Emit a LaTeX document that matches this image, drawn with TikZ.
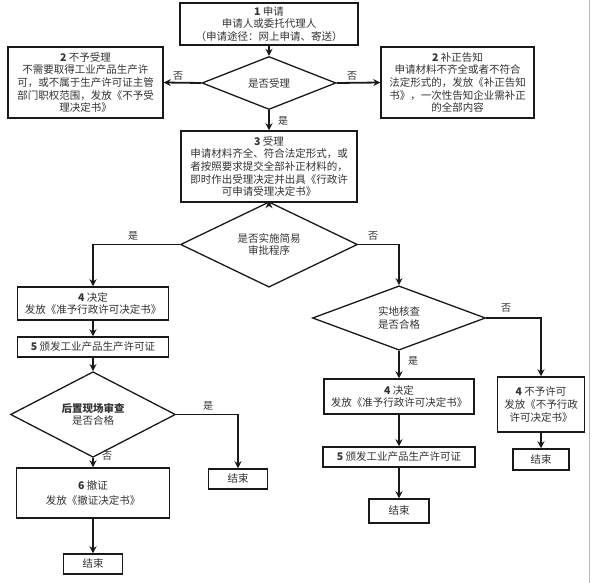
\documentclass[tikz,border=0pt]{standalone}
\usepackage{fontspec}
\setmainfont{Noto Sans CJK SC}
\usetikzlibrary{shapes.geometric,arrows.meta}
\begin{document}
\begin{tikzpicture}[x=1pt,y=-1pt,
  every node/.style={font=\fontsize{10.5}{12.6}\selectfont, text=black!80},
  box/.style n args={2}{draw=black!90, line width=1.5pt, align=center, inner sep=0pt, minimum width=#1, minimum height=#2},
  dia/.style n args={2}{diamond, draw=black!90, line width=1.3pt, align=center, inner sep=0pt, minimum width=#1, minimum height=#2},
  arr/.style={draw=black!90, line width=1.8pt, -{Stealth[length=7pt,width=7pt]}},
  lab/.style={font=\fontsize{10}{12}\selectfont}]
\fill[white] (0,0) rectangle (592,583);
\useasboundingbox (0,0) rectangle (592,583);
\draw[gray!55, line width=1pt] (589.5,0) -- (589.5,583);

% nodes
\node[box={178pt}{42pt}] (b1) at (269,24) {\textbf{1} 申请\\申请人或委托代理人\\（申请途径：网上申请、寄送）};
\node[dia={134pt}{53pt}] (d1) at (269,83) {是否受理};
\node[box={155pt}{71pt}] (b2L) at (85.5,82.5) {\textbf{2} 不予受理\\不需要取得工业产品生产许\\可，或不属于生产许可证主管\\部门职权范围，发放《不予受\\理决定书》};
\node[box={153pt}{71pt}] (b2R) at (457.5,82.5) {\textbf{2} 补正告知\\申请材料不齐全或者不符合\\法定形式的，发放《补正告知\\书》，一次性告知企业需补正\\的全部内容};
\node[box={176pt}{71pt}] (b3) at (269,166.5) {\textbf{3} 受理\\申请材料齐全、符合法定形式，或\\者按照要求提交全部补正材料的，\\即时作出受理决定并出具《行政许\\可申请受理决定书》};
\node[dia={177pt}{59pt}] (d2) at (269,244.5) {是否实施简易\\审批程序};
\node[box={151pt}{33pt}] (b4L) at (93,303.5) {\textbf{4} 决定\\发放《准予行政许可决定书》};
\node[box={151pt}{20pt}] (b5L) at (93,347) {\textbf{5} 颁发工业产品生产许可证};
\node[dia={165pt}{61pt}] (d3) at (93,414.5) {\textbf{后置现场审查}\\是否合格};
\node[box={59pt}{20pt}] (e1) at (238,479) {结束};
\node[box={153pt}{50pt}] (b6) at (93,493) {\textbf{6} 撤证\\[2pt]发放《撤证决定书》};
\node[box={59pt}{20pt}] (e2) at (93,564) {结束};
\node[dia={173pt}{60pt}] (d4) at (399,318) {实地核查\\是否合格};
\node[box={150pt}{35pt}] (b4R) at (399,396.5) {\textbf{4} 决定\\发放《准予行政许可决定书》};
\node[box={152pt}{20pt}] (b5R) at (399,457) {\textbf{5} 颁发工业产品生产许可证};
\node[box={60pt}{24pt}] (e3) at (399,511) {结束};
\node[box={87pt}{55pt}] (b4N) at (541,404.5) {\textbf{4} 不予许可\\发放《不予行政\\许可决定书》};
\node[box={56pt}{21pt}] (e4) at (541,459.5) {结束};

% connectors
\draw[arr] (b1) -- (d1);
\draw[arr] (d1.west) -- (b2L.east);
\draw[arr] (d1.east) -- (b2R.west);
\draw[arr] (d1.south) -- (b3.north);
\draw[arr] (b3) -- (d2);
\draw[arr] (d2.west) -| (b4L.north);
\draw[arr] (d2.east) -| (d4.north);
\draw[arr] (b4L) -- (b5L);
\draw[arr] (b5L) -- (d3.north);
\draw[arr] (d3.east) -| (e1.north);
\draw[arr] (d3.south) -- (b6.north);
\draw[arr] (b6) -- (e2);
\draw[arr] (d4.south) -- (b4R.north);
\draw[arr] (d4.east) -| (b4N.north);
\draw[arr] (b4R) -- (b5R);
\draw[arr] (b5R) -- (e3);
\draw[arr] (b4N) -- (e4);

% labels
\node[lab] (l1) at (178,76) {否};
\node[lab] (l2) at (352,76) {否};
\node[lab] (l3) at (283,121) {是};
\node[lab] (l4) at (133,236) {是};
\node[lab] (l5) at (373,236) {否};
\node[lab] (l6) at (208,406) {是};
\node[lab] (l7) at (107,456) {否};
\node[lab] (l8) at (413,361) {是};
\node[lab] (l9) at (506,308) {否};
\end{tikzpicture}
\end{document}
